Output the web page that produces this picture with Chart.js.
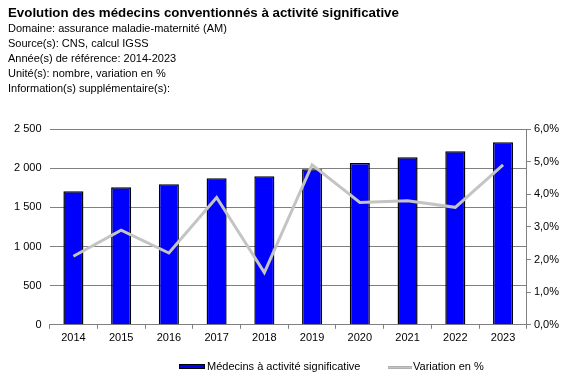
<!DOCTYPE html>
<html><head><meta charset="utf-8">
<script src="https://cdn.jsdelivr.net/npm/chart.js@4/dist/chart.umd.min.js"></script>
<style>
html,body{margin:0;padding:0;background:#fff;}
#wrap{position:relative;width:568px;height:380px;}
#hdr{position:absolute;left:8px;top:5px;font-family:"Liberation Sans",Arial,sans-serif;color:#000;z-index:2;}
#hdr .t{font-size:13.3px;font-weight:bold;line-height:16px;}
#hdr .s{font-size:11px;line-height:15px;}
canvas{position:absolute;left:0;top:0;}
.lg{position:absolute;font-family:"Liberation Sans",Arial,sans-serif;font-size:11px;line-height:13px;color:#000;white-space:nowrap;z-index:2;}
.sw{position:absolute;z-index:2;box-sizing:border-box;}
</style></head>
<body><div id="wrap">
<div id="hdr">
<div class="t">Evolution des médecins conventionnés à activité significative</div>
<div class="s">Domaine: assurance maladie-maternité (AM)</div>
<div class="s">Source(s): CNS, calcul IGSS</div>
<div class="s">Année(s) de référence: 2014-2023</div>
<div class="s">Unité(s): nombre, variation en %</div>
<div class="s">Information(s) supplémentaire(s):</div>
</div>
<canvas id="c" width="568" height="380"></canvas>
<div id="legend"></div>
</div>
<script>
const categories = ['2014','2015','2016','2017','2018','2019','2020','2021','2022','2023'];
const medecins = [1705, 1755, 1793, 1870, 1896, 1986, 2066, 2139, 2215, 2330];
const variation = [2.1, 2.9, 2.2, 3.9, 1.6, 4.9, 3.75, 3.8, 3.6, 4.9];
const seriesNames = ['Médecins à activité significative', 'Variation en %'];

const font = {family: '"Liberation Sans", Arial, sans-serif', size: 11};

const chart = new Chart(document.getElementById('c'), {
  data: {
    labels: categories,
    datasets: [
      {type: 'bar', label: seriesNames[0], data: medecins, yAxisID: 'y',
       backgroundColor: '#0000ff', borderColor: '#000000', borderWidth: 1.5,
       barPercentage: 0.42, categoryPercentage: 1, order: 2},
      {type: 'line', label: seriesNames[1], data: variation, yAxisID: 'y1',
       borderColor: '#c4c4c4', backgroundColor: '#c4c4c4', borderWidth: 3,
       pointRadius: 0, tension: 0, order: 1}
    ]
  },
  options: {
    responsive: false, animation: false,
    layout: {padding: {top: 129, left: 6, right: 6, bottom: 32}},
    plugins: {tooltip: {enabled: false}, legend: {display: false}},
    scales: {
      x: {
        grid: {offset: true, drawOnChartArea: false, drawTicks: true, tickLength: 4, color: '#808080'},
        border: {color: '#808080'},
        ticks: {font: font, color: '#000', padding: 3, maxRotation: 0}
      },
      y: {
        position: 'left', min: 0, max: 2500,
        grid: {color: '#808080', drawTicks: false},
        border: {display: false},
        ticks: {stepSize: 500, font: font, color: '#000', padding: 8,
          callback: v => v >= 1000 ? Math.floor(v/1000) + ' ' + String(v % 1000).padStart(3,'0') : String(v)}
      },
      y1: {
        position: 'right', min: 0, max: 6,
        grid: {drawOnChartArea: false, drawTicks: true, tickLength: 4, color: '#808080'},
        border: {color: '#808080'},
        ticks: {stepSize: 1, font: font, color: '#000', padding: 3,
          callback: v => v.toFixed(1).replace('.', ',') + '%'}
      }
    }
  }
});

// HTML legend built from the datasets
const lg = document.getElementById('legend');
const ds = chart.data.datasets;
lg.innerHTML =
  '<div class="sw" style="left:179px;top:364px;width:26px;height:5px;background:' + ds[0].backgroundColor + ';border:1px solid #000"></div>' +
  '<div class="lg" style="left:207px;top:360px">' + ds[0].label + '</div>' +
  '<div class="sw" style="left:388px;top:366px;width:24px;height:3px;background:' + ds[1].borderColor + ';border-top:1px solid #b0b0b0;border-bottom:1px solid #b0b0b0"></div>' +
  '<div class="lg" style="left:413px;top:360px">' + ds[1].label + '</div>';
</script>
</body></html>
